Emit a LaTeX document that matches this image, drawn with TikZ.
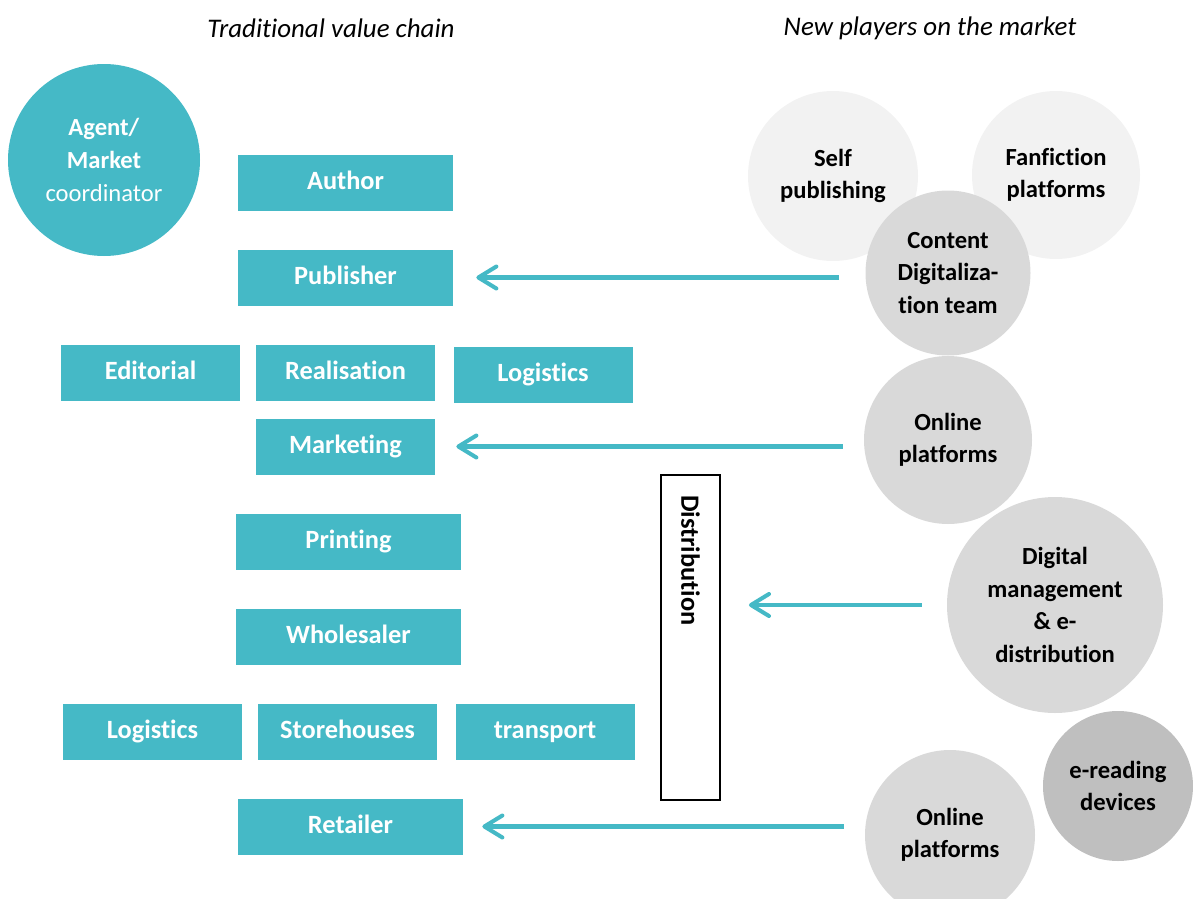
\documentclass[tikz,border=0pt]{standalone}
\usepackage{fontspec}
\setmainfont{Carlito}[Ligatures=NoCommon]
\usepackage{tikz}
\usetikzlibrary{shapes.geometric, arrows.meta, positioning}
\definecolor{tealbox}{HTML}{45B9C6}
\definecolor{greylight}{HTML}{F2F2F2}
\definecolor{greymid}{HTML}{D9D9D9}
\definecolor{greydark}{HTML}{BFBFBF}
\tikzstyle{block} = [rectangle, minimum width=4.3cm, minimum height=1.12cm, text centered, text height=10.5pt, text depth=3pt, fill=tealbox, text=white, font=\fontsize{15}{18}\selectfont\bfseries]
\tikzstyle{blockwide} = [block, minimum width=4.5cm]
\tikzstyle{blocksmall} = [block, minimum width=3.58cm]
\tikzstyle{agent} = [circle, minimum size=3.84cm, align=center, fill=tealbox, text=white, font=\fontsize{14}{19}\selectfont]
\tikzstyle{player} = [circle, align=center, font=\fontsize{14}{18.5}\selectfont\bfseries]
\tikzstyle{distbox} = [rectangle, draw=black, line width=1.1pt, rotate=-90, minimum width=6.5cm, minimum height=1.18cm, inner xsep=0.4cm, text width=5.7cm, align=left, font=\fontsize{15}{18}\selectfont\bfseries]
\tikzstyle{title} = [font=\fontsize{15.3}{18}\selectfont\itshape]
\tikzstyle{arrow} = [line width=2.3pt, draw=tealbox, -{Straight Barb[length=3.6mm, width=4.4mm, round]}]

\begin{document}
\begin{tikzpicture}[node distance=1.9cm]
		\useasboundingbox (0,0) rectangle (23.86,-17.98);
		
		\node (titleleft) [title] at (6.62,-0.56) {Traditional value chain};
		\node (titleright) [title] at (18.60,-0.56) {New players on the market};
		
		\node (agent) [agent] at (2.08,-3.20) {\textbf{Agent/}\\\textbf{Market}\\coordinator};
		
		\node (author) [block] at (6.91,-3.65) {Author};
		\node (publisher) [block, below of=author] {Publisher};
		\node (realisation) [blocksmall, below of=publisher] {Realisation};
		\node (editorial) [blocksmall, left of=realisation, xshift=-2.0cm] {Editorial};
		\node (logisticsA) [blocksmall, right of=realisation, xshift=2.05cm, yshift=-0.04cm] {Logistics};
		\node (marketing) [blocksmall, below of=realisation, yshift=0.42cm] {Marketing};
		\node (printing) [blockwide, below of=marketing, xshift=0.06cm] {Printing};
		\node (wholesaler) [blockwide, below of=printing] {Wholesaler};
		\node (storehouses) [blocksmall, below of=wholesaler, xshift=-0.02cm] {Storehouses};
		\node (logisticsB) [blocksmall, left of=storehouses, xshift=-2.0cm] {Logistics};
		\node (transport) [blocksmall, right of=storehouses, xshift=2.05cm] {transport};
		\node (retailer) [blockwide, below of=storehouses, xshift=0.06cm] {Retailer};
		
		\node (distr) [distbox] at (13.81,-12.75) {Distribution};
		
		\node (selfpub) [player, fill=greylight, minimum size=3.4cm] at (16.66,-3.52) {Self\\publishing};
		\node (fanfic) [player, fill=greylight, minimum size=3.36cm] at (21.12,-3.50) {Fanfiction\\platforms};
		\node (content) [player, fill=greymid, minimum size=3.3cm] at (18.96,-5.46) {Content\\Digitaliza-\\tion team};
		\node (onlineA) [player, fill=greymid, minimum size=3.36cm] at (18.96,-8.80) {Online\\platforms};
		\node (digital) [player, fill=greymid, minimum size=4.32cm] at (21.10,-12.10) {Digital\\management\\\& e-\\distribution};
		\node (ereading) [player, fill=greydark, minimum size=3.0cm] at (22.36,-15.72) {e-reading\\devices};
		\node (onlineB) [player, fill=greymid, minimum size=3.4cm] at (19.00,-16.70) {Online\\platforms};
		
		\draw [arrow, shorten <=0.52cm, shorten >=0.46cm] (content.west |- publisher.east) -- (publisher.east);
		\draw [arrow, shorten <=0.42cm, shorten >=0.42cm] (onlineA.west |- marketing.east) -- (marketing.east);
		\draw [arrow, shorten <=0.5cm, shorten >=0.56cm] (digital.west) -- (digital.west -| distr.north);
		\draw [arrow, shorten <=0.42cm, shorten >=0.38cm] (onlineB.west |- retailer.east) -- (retailer.east);
		
\end{tikzpicture}
\end{document}
